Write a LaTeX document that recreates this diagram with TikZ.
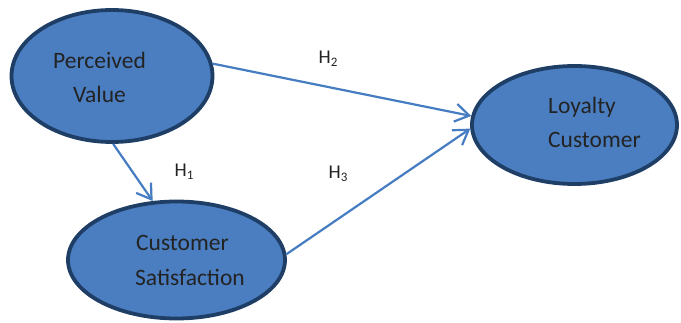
\documentclass[tikz,border=0pt]{standalone}
\usepackage{fontspec}
\setmainfont{Carlito}
\usetikzlibrary{shapes.geometric,arrows.meta}
\definecolor{fillblue}{RGB}{74,126,193}
\definecolor{edgeblue}{RGB}{30,62,102}
\definecolor{lineblue}{RGB}{70,124,193}
\definecolor{txt}{RGB}{35,35,35}
\newcommand{\hsub}[1]{H\raisebox{-0.35ex}{\fontsize{13}{13}\selectfont #1}}
\tikzset{
  construct/.style={ellipse, draw=edgeblue, fill=fillblue, line width=3.8pt, inner sep=0pt},
  lbl/.style={text=txt, font=\fontsize{23.5}{23.5}\selectfont, anchor=west, inner sep=0pt},
  hyp/.style={text=txt, font=\fontsize{19.5}{19.5}\selectfont, inner sep=0pt},
  link/.style={draw=lineblue, line width=2.2pt, -{Straight Barb[length=14pt,width=18pt,line width=2.2pt]}}
}
\begin{document}
\begin{tikzpicture}[x=1pt,y=-1pt]
\useasboundingbox (0,0) rectangle (681,323);
\node[construct, minimum width=201pt, minimum height=132pt] (pv) at (112,76) {};
\node[construct, minimum width=217pt, minimum height=117pt] (cs) at (176.5,260) {};
\node[construct, minimum width=205pt, minimum height=118pt] (lc) at (574.5,125) {};
\node[lbl] (pv1) at (53,60) {Perceived};
\node[lbl] (pv2) at (73,94) {Value};
\node[lbl] (cs1) at (136,243) {Customer};
\node[lbl] (cs2) at (135,277) {Satisfaction};
\node[lbl] (lc1) at (548,107) {Loyalty};
\node[lbl] (lc2) at (548,140) {Customer};
\node[hyp] (h2) at (328,59) {\hsub{2}};
\node[hyp] (h1) at (184,172) {\hsub{1}};
\node[hyp] (h3) at (338,174) {\hsub{3}};
\draw[link] (pv.7) -- (lc.175);
\draw[link] (cs.3) -- (lc.182);
\draw[link] (pv.-89) -- (cs.112);
\end{tikzpicture}
\end{document}
